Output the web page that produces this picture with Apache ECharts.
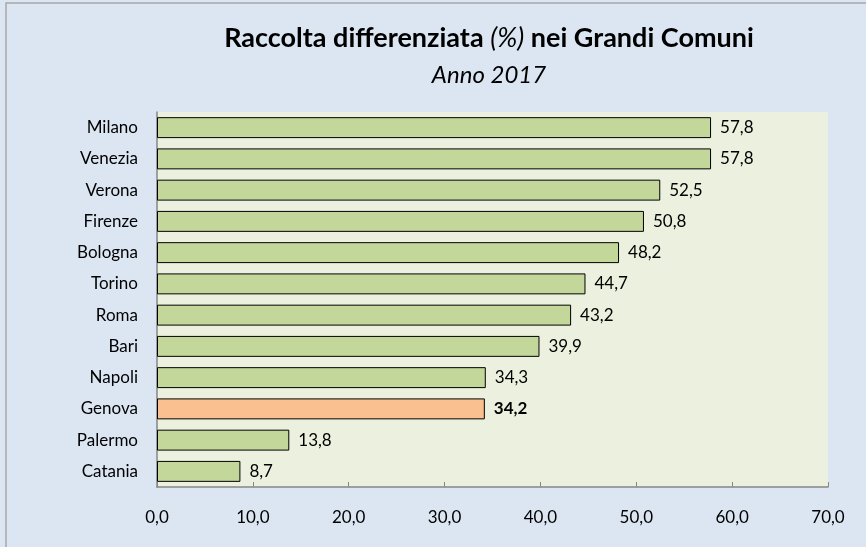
<!DOCTYPE html>
<html>
<head>
<meta charset="utf-8">
<script src="https://cdn.jsdelivr.net/npm/echarts@6/dist/echarts.min.js"></script>
<style>
  html, body { margin: 0; padding: 0; background: #dce6f2; }
  #chart { width: 866px; height: 547px; }
</style>
</head>
<body>
<div id="chart"></div>
<script>
  // dati: raccolta differenziata 2017
  const comuni = ['Milano', 'Venezia', 'Verona', 'Firenze', 'Bologna', 'Torino', 'Roma', 'Bari', 'Napoli', 'Genova', 'Palermo', 'Catania']
  const valori = [57.8, 57.8, 52.5, 50.8, 48.2, 44.7, 43.2, 39.9, 34.3, 34.2, 13.8, 8.7]
  const evidenziato = 'Genova'
  const tickLabels = ['0,0', '10,0', '20,0', '30,0', '40,0', '50,0', '60,0', '70,0']

  const font = 'Lato'
  const chart = echarts.init(document.getElementById('chart'))

  const seriesData = valori.map((v, i) => {
    const hl = comuni[i] === evidenziato
    return {
      value: v,
      itemStyle: { color: hl ? '#fac090' : '#c4d79b' },
      label: { fontWeight: hl ? 'bold' : 'normal' }
    }
  })

  chart.setOption({
    backgroundColor: '#dce6f2',
    animation: false,
    graphic: [{
      type: 'rect',
      shape: { x: 6, y: 3, width: 900, height: 600 },
      style: { fill: 'transparent', stroke: '#a6a6a6', lineWidth: 1.5 },
      silent: true
    }],
    title: {
      left: 484,
      top: 14,
      textAlign: 'center',
      text: '{b|Raccolta differenziata }{i|(%)}{b| nei Grandi Comuni}\n{s|Anno 2017}',
      textStyle: {
        rich: {
          b: { fontFamily: font, fontWeight: 'bold', fontSize: 27, color: '#000', lineHeight: 38 },
          i: { fontFamily: font, fontWeight: 'normal', fontStyle: 'italic', fontSize: 27, color: '#000', lineHeight: 38 },
          s: { fontFamily: font, fontWeight: 'normal', fontStyle: 'italic', fontSize: 24, color: '#000', lineHeight: 36 }
        }
      }
    },
    grid: {
      left: 157,
      top: 112,
      right: 38,
      bottom: 60,
      show: true,
      backgroundColor: '#ebf1de',
      borderWidth: 0
    },
    xAxis: {
      type: 'value',
      min: 0,
      max: 70,
      interval: 10,
      splitLine: { show: false },
      axisLine: { show: true, lineStyle: { color: '#868686', width: 1.5 } },
      axisTick: { show: true, inside: true, length: 5, lineStyle: { color: '#868686' } },
      axisLabel: {
        margin: 22,
        fontFamily: font,
        fontSize: 17,
        color: '#000',
        formatter: (v) => tickLabels[Math.round(v / 10)]
      }
    },
    yAxis: {
      type: 'category',
      data: comuni,
      inverse: true,
      axisLine: { show: true, lineStyle: { color: '#868686', width: 1.5 } },
      axisTick: { show: false },
      axisLabel: { margin: 19, fontFamily: font, fontSize: 17, color: '#000' }
    },
    series: [{
      type: 'bar',
      data: seriesData,
      barCategoryGap: '33%',
      itemStyle: { borderColor: '#000', borderWidth: 1 },
      label: {
        show: true,
        position: 'right',
        distance: 9,
        fontFamily: font,
        fontSize: 17,
        color: '#000',
        formatter: (p) => p.value.toFixed(1).replace('.', ',')
      }
    }]
  })
</script>
</body>
</html>
